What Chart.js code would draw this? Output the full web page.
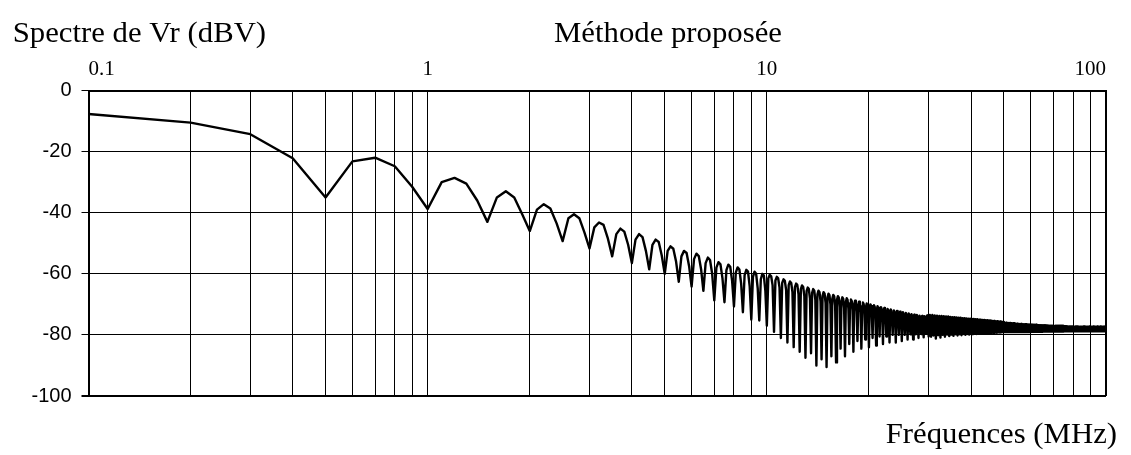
<!DOCTYPE html>
<html>
<head>
<meta charset="utf-8">
<script src="https://cdn.jsdelivr.net/npm/chart.js"></script>
<style>
  body { margin: 0; background: #fff; }
</style>
</head>
<body>
<canvas id="spectre" width="1131" height="455"></canvas>
<script>
// textes
const chartTitle = 'Méthode proposée';
const yTitle = 'Spectre de Vr (dBV)';
const xTitle = 'Fréquences (MHz)';

// graduations
const xTickLabels = [0.1, 1, 10, 100];
const xGrid = [0.1, 0.2, 0.3, 0.4, 0.5, 0.6, 0.7, 0.8, 0.9,
  1, 2, 3, 4, 5, 6, 7, 8, 9,
  10, 20, 30, 40, 50, 60, 70, 80, 90, 100];

// 0.1 - 9.9 MHz
const freqLow = [0.1, 0.2, 0.3, 0.4, 0.5, 0.6, 0.7, 0.8, 0.9, 1.0,
  1.1, 1.2, 1.3, 1.4, 1.5, 1.6, 1.7, 1.8, 1.9, 2.0,
  2.1, 2.2, 2.3, 2.4, 2.5, 2.6, 2.7, 2.8, 2.9, 3.0,
  3.1, 3.2, 3.3, 3.4, 3.5, 3.6, 3.7, 3.8, 3.9, 4.0,
  4.1, 4.2, 4.3, 4.4, 4.5, 4.6, 4.7, 4.8, 4.9, 5.0,
  5.1, 5.2, 5.3, 5.4, 5.5, 5.6, 5.7, 5.8, 5.9, 6.0,
  6.1, 6.2, 6.3, 6.4, 6.5, 6.6, 6.7, 6.8, 6.9, 7.0,
  7.1, 7.2, 7.3, 7.4, 7.5, 7.6, 7.7, 7.8, 7.9, 8.0,
  8.1, 8.2, 8.3, 8.4, 8.5, 8.6, 8.7, 8.8, 8.9, 9.0,
  9.1, 9.2, 9.3, 9.4, 9.5, 9.6, 9.7, 9.8, 9.9];
const dbLow = [-7.7, -10.5, -14.3, -22.2, -35.0, -23.2, -22.0, -24.8, -31.5, -38.8,
  -30.0, -28.6, -30.5, -36.0, -43.0, -35.0, -33.0, -35.0, -40.5, -46.0,
  -39.0, -37.2, -38.6, -43.5, -49.3, -41.8, -40.5, -41.8, -46.5, -51.7,
  -44.8, -43.2, -44.0, -48.5, -54.3, -47.0, -45.2, -46.2, -50.5, -56.5,
  -48.8, -47.0, -48.0, -52.5, -58.5, -50.5, -48.8, -49.6, -54.0, -60.0,
  -52.5, -51.0, -51.8, -56.0, -62.6, -54.3, -52.5, -53.2, -57.5, -64.2,
  -55.2, -53.4, -54.2, -58.5, -65.6, -56.5, -54.7, -55.5, -60.0, -68.7,
  -58.0, -56.2, -56.9, -61.5, -69.3, -58.8, -57.0, -57.7, -62.3, -70.7,
  -59.6, -57.9, -58.6, -63.2, -72.6, -60.4, -58.7, -59.3, -64.0, -75.0,
  -61.0, -59.3, -60.0, -64.8, -75.3, -61.8, -60.0, -60.6, -65.5];

// 10 - 29.9 MHz
const freqMid = [10.0, 10.1, 10.2, 10.3, 10.4, 10.5, 10.6, 10.7, 10.8, 10.9,
  11.0, 11.1, 11.2, 11.3, 11.4, 11.5, 11.6, 11.7, 11.8, 11.9,
  12.0, 12.1, 12.2, 12.3, 12.4, 12.5, 12.6, 12.7, 12.8, 12.9,
  13.0, 13.1, 13.2, 13.3, 13.4, 13.5, 13.6, 13.7, 13.8, 13.9,
  14.0, 14.1, 14.2, 14.3, 14.4, 14.5, 14.6, 14.7, 14.8, 14.9,
  15.0, 15.1, 15.2, 15.3, 15.4, 15.5, 15.6, 15.7, 15.8, 15.9,
  16.0, 16.1, 16.2, 16.3, 16.4, 16.5, 16.6, 16.7, 16.8, 16.9,
  17.0, 17.1, 17.2, 17.3, 17.4, 17.5, 17.6, 17.7, 17.8, 17.9,
  18.0, 18.1, 18.2, 18.3, 18.4, 18.5, 18.6, 18.7, 18.8, 18.9,
  19.0, 19.1, 19.2, 19.3, 19.4, 19.5, 19.6, 19.7, 19.8, 19.9,
  20.0, 20.1, 20.2, 20.3, 20.4, 20.5, 20.6, 20.7, 20.8, 20.9,
  21.0, 21.1, 21.2, 21.3, 21.4, 21.5, 21.6, 21.7, 21.8, 21.9,
  22.0, 22.1, 22.2, 22.3, 22.4, 22.5, 22.6, 22.7, 22.8, 22.9,
  23.0, 23.1, 23.2, 23.3, 23.4, 23.5, 23.6, 23.7, 23.8, 23.9,
  24.0, 24.1, 24.2, 24.3, 24.4, 24.5, 24.6, 24.7, 24.8, 24.9,
  25.0, 25.1, 25.2, 25.3, 25.4, 25.5, 25.6, 25.7, 25.8, 25.9,
  26.0, 26.1, 26.2, 26.3, 26.4, 26.5, 26.6, 26.7, 26.8, 26.9,
  27.0, 27.1, 27.2, 27.3, 27.4, 27.5, 27.6, 27.7, 27.8, 27.9,
  28.0, 28.1, 28.2, 28.3, 28.4, 28.5, 28.6, 28.7, 28.8, 28.9,
  29.0, 29.1, 29.2, 29.3, 29.4, 29.5, 29.6, 29.7, 29.8, 29.9];
const dbMid = [-77, -61.5, -60.3, -60.8, -63.8, -79, -62.2, -61, -61.5, -64.5,
  -81, -63, -61.8, -62.3, -65.3, -82.5, -63.7, -62.5, -63, -66,
  -84, -64.4, -63.2, -63.7, -66.7, -85.5, -65, -63.8, -64.3, -67.3,
  -87.5, -65.7, -64.5, -65, -68, -86, -66.2, -65, -65.5, -68.5,
  -90, -66.7, -65.5, -66, -69, -88, -67.2, -66, -66.5, -69.5,
  -90.5, -67.7, -66.5, -67, -70, -87, -68.1, -66.9, -67.4, -70.4,
  -89, -68.5, -67.3, -67.8, -70.8, -84.5, -68.9, -67.7, -68.2, -71.2,
  -87, -69.2, -68, -68.5, -71.5, -83, -69.6, -68.4, -68.9, -71.9,
  -85.5, -70, -68.8, -69.3, -72.3, -82, -70.3, -69.1, -69.6, -72.6,
  -84.5, -70.6, -69.4, -69.9, -72.9, -81.5, -70.9, -69.7, -70.2, -73.2,
  -84, -71.2, -70, -70.5, -73.5, -81, -71.5, -70.3, -70.8, -73.8,
  -83.5, -71.8, -70.6, -71.1, -74.1, -80.5, -72.1, -70.9, -71.4, -74.4,
  -83, -72.4, -71.2, -71.7, -74.7, -80.5, -72.7, -71.5, -72, -75,
  -82.5, -72.9, -71.7, -72.2, -75.2, -80, -73.2, -72, -72.5, -75.5,
  -82.5, -73.4, -72.2, -72.7, -75.7, -80, -73.6, -72.4, -72.9, -75.9,
  -82, -73.8, -72.6, -73.1, -76.1, -80, -74, -72.8, -73.3, -76.3,
  -81.5, -74.2, -73, -73.5, -76.5, -79.8, -74.4, -73.2, -73.7, -76.7,
  -81.5, -74.6, -73.4, -73.9, -76.9, -79.8, -74.7, -73.5, -74, -77,
  -81, -74.9, -73.7, -74.2, -77.2, -79.7, -75, -73.8, -74.3, -77.3,
  -80.8, -75.1, -73.9, -74.4, -77.4, -79.6, -74.8, -73.6, -74.1, -77.1];

// 30 - 50 MHz
const freqUpper = [30, 30.25, 30.5, 30.75, 31, 31.25, 31.5, 31.75, 32, 32.25, 32.5,
  32.75, 33, 33.25, 33.5, 33.75, 34, 34.25, 34.5, 34.75, 35,
  35.25, 35.5, 35.75, 36, 36.25, 36.5, 36.75, 37, 37.25, 37.5,
  37.75, 38, 38.25, 38.5, 38.75, 39, 39.25, 39.5, 39.75, 40,
  40.25, 40.5, 40.75, 41, 41.25, 41.5, 41.75, 42, 42.25, 42.5,
  42.75, 43, 43.25, 43.5, 43.75, 44, 44.25, 44.5, 44.75, 45,
  45.25, 45.5, 45.75, 46, 46.25, 46.5, 46.75, 47, 47.25, 47.5,
  47.75, 48, 48.25, 48.5, 48.75, 49, 49.25, 49.5, 49.75, 50];
const dbUpper = [-80.5, -73.5, -80.6, -73.5, -80.2, -73.6, -81.2, -73.7, -80.1, -73.8, -80.9,
  -73.8, -80, -73.9, -80.6, -74, -79.9, -74, -80.4, -74.1, -79.9,
  -74.2, -80.3, -74.2, -79.8, -74.3, -80.2, -74.4, -79.8, -74.4, -80.1,
  -74.5, -79.7, -74.5, -80, -74.6, -79.7, -74.7, -79.9, -74.7, -79.6,
  -74.8, -79.8, -74.8, -79.6, -74.9, -79.7, -74.9, -79.5, -75, -79.6,
  -75, -79.5, -75.1, -79.6, -75.1, -79.4, -75.2, -79.5, -75.2, -79.4,
  -75.3, -79.4, -75.3, -79.3, -75.4, -79.4, -75.4, -79.3, -75.5, -79.3,
  -75.5, -79.2, -75.6, -79.2, -75.6, -79.2, -75.7, -79.1, -75.8, -79.1];

// 50 - 100 MHz
const freqTop = [50.25, 50.5, 50.75, 51, 51.25, 51.5, 51.75, 52, 52.25, 52.5,
  52.75, 53, 53.25, 53.5, 53.75, 54, 54.25, 54.5, 54.75, 55,
  55.25, 55.5, 55.75, 56, 56.25, 56.5, 56.75, 57, 57.25, 57.5,
  57.75, 58, 58.25, 58.5, 58.75, 59, 59.25, 59.5, 59.75, 60,
  60.25, 60.5, 60.75, 61, 61.25, 61.5, 61.75, 62, 62.25, 62.5,
  62.75, 63, 63.25, 63.5, 63.75, 64, 64.25, 64.5, 64.75, 65,
  65.25, 65.5, 65.75, 66, 66.25, 66.5, 66.75, 67, 67.25, 67.5,
  67.75, 68, 68.25, 68.5, 68.75, 69, 69.25, 69.5, 69.75, 70,
  70.25, 70.5, 70.75, 71, 71.25, 71.5, 71.75, 72, 72.25, 72.5,
  72.75, 73, 73.25, 73.5, 73.75, 74, 74.25, 74.5, 74.75, 75,
  75.25, 75.5, 75.75, 76, 76.25, 76.5, 76.75, 77, 77.25, 77.5,
  77.75, 78, 78.25, 78.5, 78.75, 79, 79.25, 79.5, 79.75, 80,
  80.25, 80.5, 80.75, 81, 81.25, 81.5, 81.75, 82, 82.25, 82.5,
  82.75, 83, 83.25, 83.5, 83.75, 84, 84.25, 84.5, 84.75, 85,
  85.25, 85.5, 85.75, 86, 86.25, 86.5, 86.75, 87, 87.25, 87.5,
  87.75, 88, 88.25, 88.5, 88.75, 89, 89.25, 89.5, 89.75, 90,
  90.25, 90.5, 90.75, 91, 91.25, 91.5, 91.75, 92, 92.25, 92.5,
  92.75, 93, 93.25, 93.5, 93.75, 94, 94.25, 94.5, 94.75, 95,
  95.25, 95.5, 95.75, 96, 96.25, 96.5, 96.75, 97, 97.25, 97.5,
  97.75, 98, 98.25, 98.5, 98.75, 99, 99.25, 99.5, 99.75, 100];
const dbTop = [-76.0, -79.1, -76.0, -79.1, -76.1, -79.1, -76.1, -79.1, -76.1, -79.1,
  -76.2, -79.1, -76.2, -79.1, -76.2, -79.1, -76.3, -79.1, -76.3, -79.1,
  -76.4, -79.1, -76.4, -79.1, -76.4, -79.1, -76.5, -79.1, -76.5, -79.1,
  -76.5, -79.1, -76.5, -79.1, -76.6, -79.1, -76.6, -79.1, -76.6, -79.1,
  -76.7, -79.0, -76.7, -79.0, -76.7, -79.0, -76.7, -79.0, -76.7, -79.0,
  -76.8, -79.0, -76.8, -79.0, -76.8, -79.0, -76.8, -79.0, -76.8, -79.0,
  -76.9, -78.9, -76.9, -78.9, -76.9, -78.9, -76.9, -78.9, -76.9, -78.9,
  -77.0, -78.9, -77.0, -78.9, -77.0, -78.9, -77.0, -78.9, -77.0, -78.9,
  -77.1, -78.9, -77.1, -78.9, -77.1, -78.9, -77.1, -78.9, -77.1, -78.9,
  -77.1, -78.9, -77.1, -78.9, -77.1, -78.9, -77.1, -78.9, -77.1, -78.9,
  -77.2, -78.8, -77.2, -78.8, -77.2, -78.8, -77.2, -78.8, -77.2, -78.8,
  -77.2, -78.8, -77.2, -78.8, -77.2, -78.8, -77.2, -78.8, -77.2, -78.8,
  -77.3, -78.8, -77.3, -78.8, -77.3, -78.8, -77.3, -78.8, -77.3, -78.8,
  -77.3, -78.8, -77.3, -78.8, -77.3, -78.8, -77.3, -78.8, -77.3, -78.8,
  -77.3, -78.8, -77.3, -78.8, -77.3, -78.8, -77.3, -78.8, -77.3, -78.8,
  -77.3, -78.8, -77.3, -78.8, -77.3, -78.8, -77.3, -78.8, -77.3, -78.8,
  -77.3, -78.8, -77.3, -78.8, -77.3, -78.8, -77.3, -78.8, -77.3, -78.8,
  -77.3, -78.8, -77.3, -78.8, -77.3, -78.8, -77.3, -78.8, -77.3, -78.8,
  -77.3, -78.8, -77.3, -78.8, -77.3, -78.8, -77.3, -78.8, -77.3, -78.8,
  -77.3, -78.8, -77.3, -78.8, -77.3, -78.8, -77.3, -78.8, -77.3, -78.8];

const freqs = [].concat(freqLow, freqMid, freqUpper, freqTop);
const dbs = [].concat(dbLow, dbMid, dbUpper, dbTop);
const points = freqs.map((f, i) => ({ x: f, y: dbs[i] }));

const textes = {
  id: 'textes',
  afterDraw(chart) {
    const ctx = chart.ctx;
    const items = [[yTitle, 12.7, 42], [chartTitle, 554, 41.5], [xTitle, 885.7, 443]];
    ctx.save();
    ctx.fillStyle = '#000';
    ctx.font = '29px "Liberation Serif", "Times New Roman", serif';
    items.forEach(([t, x, y]) => {
      ctx.save();
      ctx.translate(x, y);
      ctx.scale(1.06, 1);
      ctx.fillText(t, 0, 0);
      ctx.restore();
    });
    ctx.restore();
  }
};

const ctx = document.getElementById('spectre').getContext('2d');
new Chart(ctx, {
  type: 'line',
  data: {
    datasets: [{
      label: yTitle,
      data: points,
      borderColor: '#000',
      borderWidth: 2.4,
      borderJoinStyle: 'round',
      borderCapStyle: 'round',
      pointRadius: 0,
      tension: 0,
      fill: false
    }]
  },
  options: {
    responsive: false,
    animation: false,
    layout: { padding: { left: 0, top: 0, right: 25, bottom: 59 } },
    plugins: {
      legend: { display: false },
      tooltip: { enabled: false }
    },
    scales: {
      x: {
        type: 'logarithmic',
        position: 'top',
        min: 0.1,
        max: 100,
        afterBuildTicks: (scale) => { scale.ticks = xGrid.map(v => ({ value: v })); },
        afterFit: (scale) => { scale.height = 90.5; },
        border: { display: true, color: '#000', width: 2 },
        grid: {
          color: '#000',
          lineWidth: (c) => (c.tick && c.tick.value >= 99.9) ? 2 : 1,
          drawTicks: false
        },
        ticks: {
          autoSkip: false,
          maxRotation: 0,
          align: 'inner',
          padding: 8,
          color: '#000',
          font: { family: '"Liberation Serif", "Times New Roman", serif', size: 21 },
          callback: (v) => {
            const m = xTickLabels.find(t => Math.abs(t - v) < t * 1e-6);
            return m !== undefined ? String(m) : '';
          }
        }
      },
      y: {
        min: -100,
        max: 0,
        afterFit: (scale) => { scale.width = 88.5; },
        border: { display: true, color: '#000', width: 2 },
        grid: {
          color: '#000',
          lineWidth: (c) => (c.tick && c.tick.value <= -100) ? 2 : 1,
          drawTicks: true,
          tickLength: 7
        },
        ticks: {
          stepSize: 20,
          padding: 10,
          color: '#000',
          font: { family: '"Liberation Sans", Arial, sans-serif', size: 20 }
        }
      }
    }
  },
  plugins: [textes]
});
</script>
</body>
</html>
